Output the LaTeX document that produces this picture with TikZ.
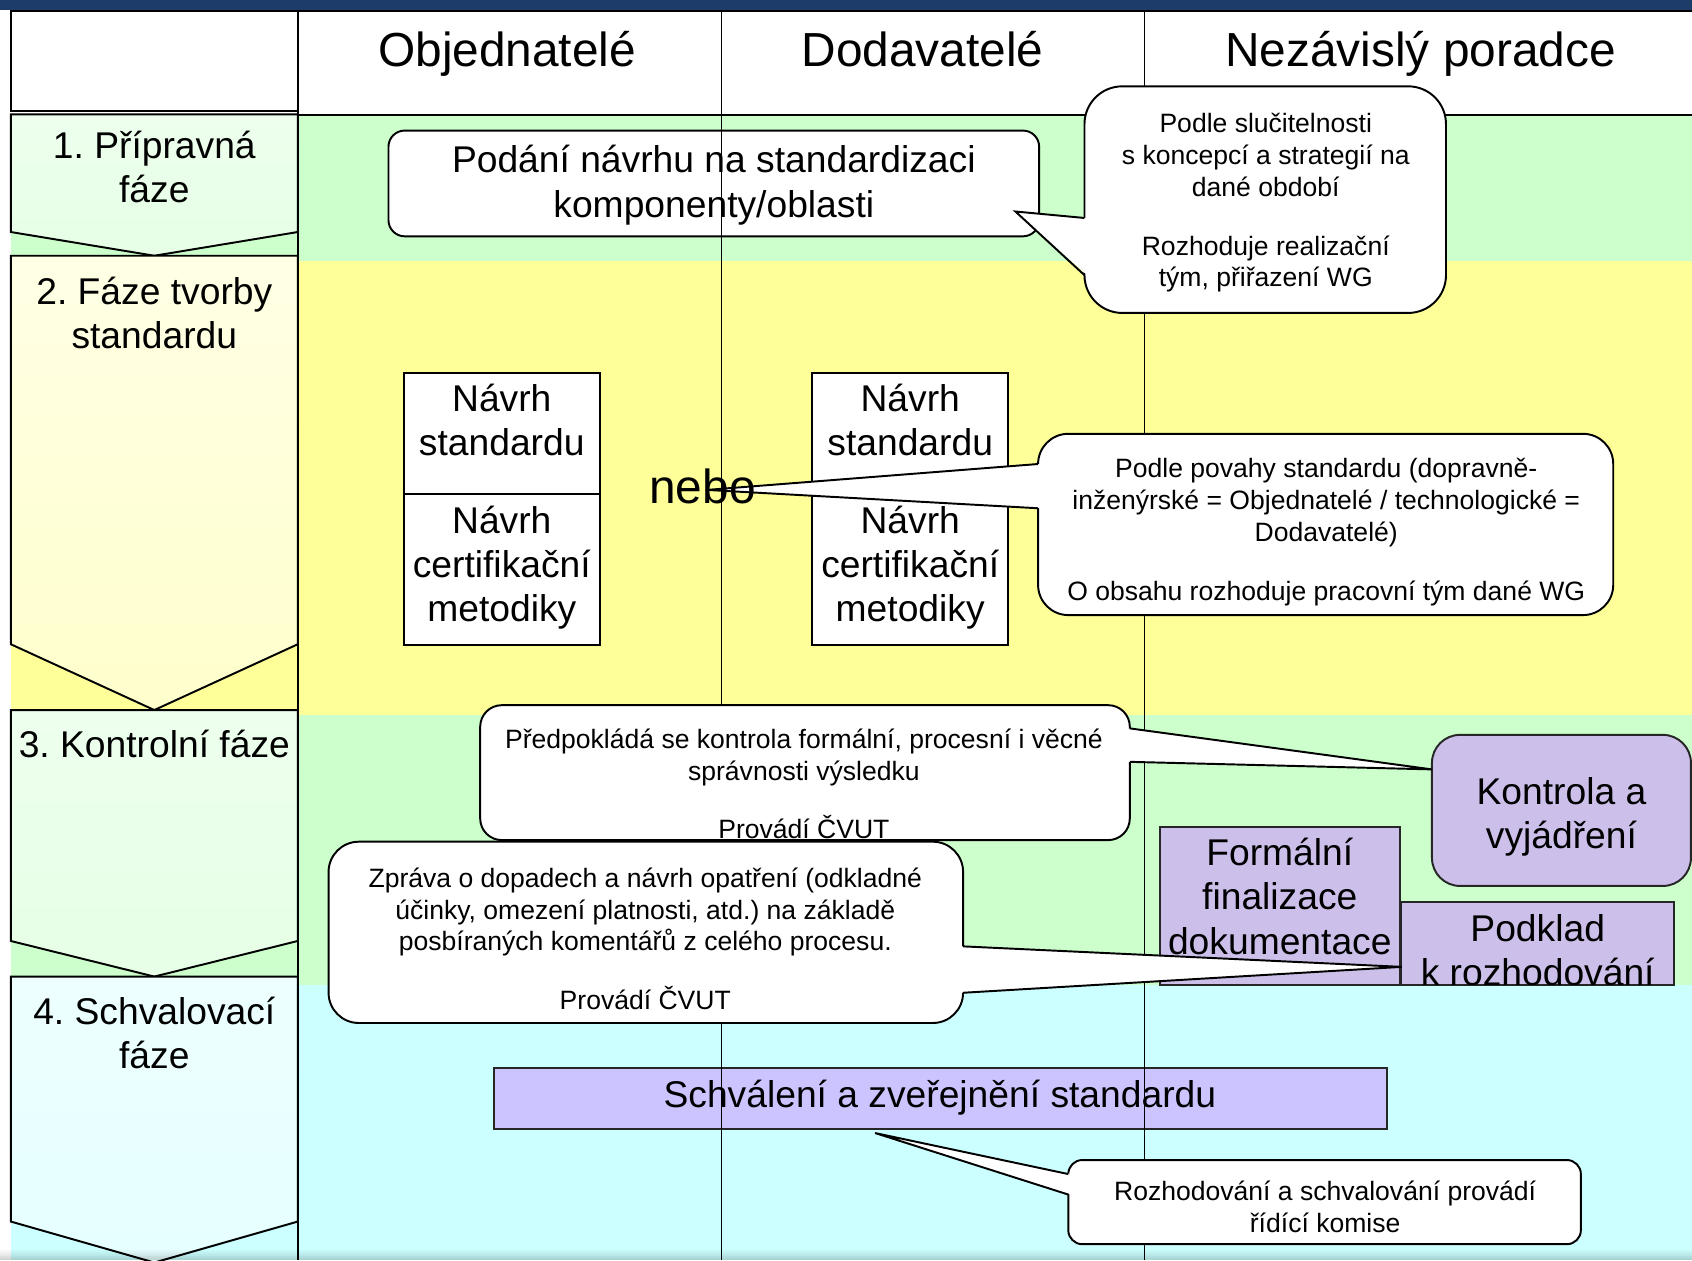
\documentclass[tikz,border=0pt]{standalone}
\usepackage{fontspec}
\setmainfont{Liberation Sans}
\frenchspacing
\definecolor{bandG}{RGB}{204,255,204}
\definecolor{bandY}{RGB}{255,255,153}
\definecolor{bandC}{RGB}{204,255,255}
\definecolor{lavA}{RGB}{204,192,234}
\definecolor{lavB}{RGB}{204,196,255}
\definecolor{navy}{RGB}{30,60,105}
\begin{document}
\begin{tikzpicture}[x=1pt,y=-1pt,
  every node/.style={inner sep=0pt,outer sep=0pt},
  hdr/.style={font=\fontsize{44.3}{53}\selectfont},
  lbl/.style={font=\fontsize{34.5}{41}\selectfont,align=center},
  note/.style={font=\fontsize{24.6}{29.5}\selectfont,align=center},
  frame/.style={draw=black,line width=1.8pt},
  sz/.style 2 args={minimum width=#1pt,minimum height=#2pt},
  whitebox/.style={frame,fill=white},
  lavbox/.style={draw=black!85,line width=1.8pt,fill=lavA},
  callout/.style={frame,fill=white,rounded corners=#1pt},
  colline/.style={draw=black,line width=1.5pt},
  phase/.style={frame,line join=miter},
  wedge/.style={frame,line join=miter},
]
\useasboundingbox (0,0) rectangle (1568,1168);
\fill[white] (0,0) rectangle (1568,1168);
\fill[navy] (0,0) rectangle (1568,9);

% bands
\fill[bandG] (10,106) rectangle (276,237);
\fill[bandY] (10,237) rectangle (276,658);
\fill[bandG] (10,658) rectangle (276,905);
\fill[bandC] (10,905) rectangle (276,1168);
\fill[bandG] (276,107) rectangle (1568,242);
\fill[bandY] (276,242) rectangle (1568,663);
\fill[bandG] (276,663) rectangle (1568,913);
\fill[bandC] (276,913) rectangle (1568,1168);

% phase chevrons
\draw[phase,top color=bandG!35!white,bottom color=bandG!50!white] (10,106) -- (276,106) -- (276,215) -- (143,237) -- (10,215) -- cycle;
\draw[phase,top color=bandY!25!white,bottom color=bandY!50!white] (10,237) -- (276,237) -- (276,597) -- (143,658) -- (10,597) -- cycle;
\draw[phase,top color=bandG!35!white,bottom color=bandG!50!white] (10,658) -- (276,658) -- (276,872) -- (143,905) -- (10,872) -- cycle;
\draw[phase,top color=bandC!35!white,bottom color=bandC!50!white] (10,905) -- (276,905) -- (276,1132) -- (143,1170) -- (10,1132) -- cycle;

% header
\node[whitebox,sz={266}{93}] (corner) at (143,56.5) {};
\draw[frame] (10,10) -- (1568,10);
\draw[frame] (276,107) -- (1568,107);
\node[hdr] (hObj) at (470,50) {Objednatelé};
\node[hdr] (hDod) at (855,45.5) {Dodavatelé};
\node[hdr] (hNez) at (1316.5,50) {Nezávislý poradce};

% phase labels
\node[lbl] (p1) at (143,154.5) {1. Přípravná\\fáze};
\node[lbl] (p2) at (143,290) {2. Fáze tvorby\\standardu};
\node[lbl] (p3) at (143,689.5) {3. Kontrolní fáze};
\node[lbl] (p4) at (143,957.5) {4. Schvalovací\\fáze};

% boxes
\node[whitebox,rounded corners=15pt,sz={603}{98}] (podani) at (661.5,170) {};
\node[lbl] (tPodani) at (661.5,171.5) {Podání návrhu na standardizaci\\komponenty/oblasti};

\node[whitebox,sz={182}{112}] (nsL) at (465,402) {};
\node[whitebox,sz={182}{140}] (ncL) at (465,528) {};
\node[lbl] (tnsL) at (465,389.5) {Návrh\\standardu};
\node[lbl] (tncL) at (465,526) {Návrh\\certifikační\\metodiky};
\node[whitebox,sz={182}{112}] (nsR) at (843.5,402) {};
\node[whitebox,sz={182}{140}] (ncR) at (843.5,528) {};
\node[lbl] (tnsR) at (843.5,389.5) {Návrh\\standardu};
\node[lbl] (tncR) at (843.5,526) {Návrh\\certifikační\\metodiky};

\node[lavbox,fill=lavB,sz={827}{56}] (schval) at (871.5,1018) {};
\node[lbl] (tSchval) at (871,1017) {Schválení a zveřejnění standardu};

\node[lavbox,sz={222}{147}] (formal) at (1186,839.5) {};
\node[lbl] (tFormal) at (1186,830.6) {Formální\\finalizace\\dokumentace};
\node[lavbox,sz={253}{77}] (podklad) at (1424.5,874.5) {};
\begin{scope}
\clip (1299,837) rectangle (1550,912);
\node[lbl] (tPodklad) at (1425,880.7) {Podklad\\k rozhodování};
\end{scope}
\node[lavbox,rounded corners=26pt,sz={240}{140}] (kontrola) at (1447,751) {};
\node[lbl] (tKontrola) at (1447,757) {Kontrola a\\vyjádření};

% column lines
\draw[frame] (276,10) -- (276,1168);
\draw[colline] (668.5,10) -- (668.5,1168);
\draw[colline] (1060.5,10) -- (1060.5,1168);

% callout 1
\node[callout=35,sz={335}{210}] (c1) at (1172.5,185) {};
\coordinate (c1a) at (1005,202);
\coordinate (c1b) at (1005,255);
\coordinate (c1t) at (941,196);
\fill[white] ([xshift=2.5pt]c1a) -- (c1t) -- ([xshift=2.5pt]c1b) -- cycle;
\draw[wedge] (c1a) -- (c1t) -- (c1b);
\node[note] (tc1) at (1173,188) {Podle slučitelnosti\\s koncepcí a strategií na\\dané období\\[25pt]Rozhoduje realizační\\tým, přiřazení WG};

% callout 2
\node[callout=28,sz={533}{168}] (c2) at (1228.5,486) {};
\coordinate (c2a) at (962,430);
\coordinate (c2b) at (962,471);
\coordinate (c2t) at (655,454);
\fill[white] ([xshift=2.5pt]c2a) -- (c2t) -- ([xshift=2.5pt]c2b) -- cycle;
\draw[wedge] (c2a) -- (c2t) -- (c2b);
\node[note] (tc2) at (1229,493) {Podle povahy standardu (dopravně-\\inženýrské = Objednatelé / technologické =\\Dodavatelé)\\[25pt]O obsahu rozhoduje pracovní tým dané WG};

% callout 3
\node[callout=20,sz={602}{125}] (c3) at (746,716) {};
\coordinate (c3a) at (1047,675);
\coordinate (c3b) at (1047,706);
\coordinate (c3t) at (1327,713);
\fill[white] ([xshift=-2.5pt]c3a) -- (c3t) -- ([xshift=-2.5pt]c3b) -- cycle;
\draw[wedge] (c3a) -- (c3t) -- (c3b);
\node[note] (tc3) at (745,726.5) {Předpokládá se kontrola formální, procesní i věcné\\správnosti výsledku\\[25pt]Provádí ČVUT};

% callout 4
\node[callout=28,sz={588}{168}] (c4) at (598.5,864) {};
\coordinate (c4a) at (892.5,877);
\coordinate (c4b) at (892.5,920);
\coordinate (c4t) at (1299,896);
\fill[white] ([xshift=-2.5pt]c4a) -- (c4t) -- ([xshift=-2.5pt]c4b) -- cycle;
\draw[wedge] (c4a) -- (c4t) -- (c4b);
\node[note] (tc4) at (598,870) {Zpráva o dopadech a návrh opatření (odkladné\\účinky, omezení platnosti, atd.) na základě\\posbíraných komentářů z celého procesu.\\[25pt]Provádí ČVUT};

% callout 5
\node[callout=13,sz={475}{78}] (c5) at (1227.5,1114) {};
\coordinate (c5a) at (990,1088);
\coordinate (c5b) at (990,1107);
\coordinate (c5t) at (811,1050);
\fill[white] ([xshift=2.5pt]c5a) -- (c5t) -- ([xshift=2.5pt]c5b) -- cycle;
\draw[wedge] (c5a) -- (c5t) -- (c5b);
\node[note] (tc5) at (1228,1118.5) {Rozhodování a schvalování provádí\\řídící komise};

% nebo
\node[hdr] (nebo) at (651,451) {nebo};

% bottom shade
\foreach \i/\o in {0/0.03,1/0.06,2/0.09,3/0.13,4/0.17}
  \fill[black,opacity=\o] (0,1158+2*\i) rectangle (1568,1160+2*\i);
\end{tikzpicture}
\end{document}
